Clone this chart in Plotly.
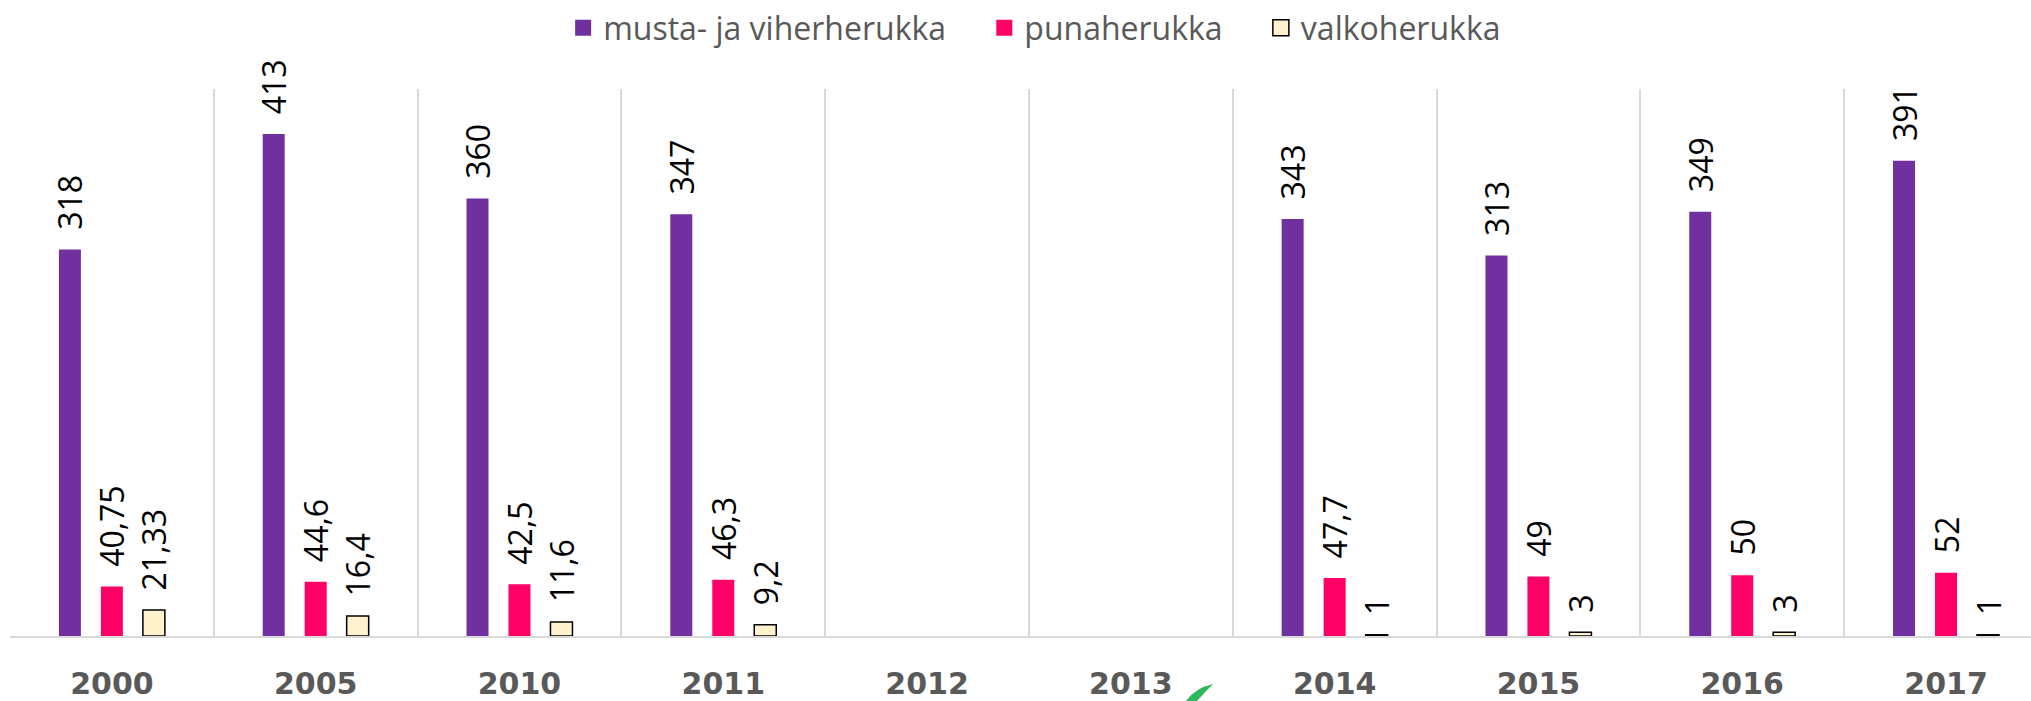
import plotly.graph_objects as go

years = ['2000', '2005', '2010', '2011', '2012', '2013', '2014', '2015', '2016', '2017']
musta = [318, 413, 360, 347, None, None, 343, 313, 349, 391]
puna = [40.75, 44.6, 42.5, 46.3, None, None, 47.7, 49, 50, 52]
valko = [21.33, 16.4, 11.6, 9.2, None, None, 1, 3, 3, 1]

names = ['musta- ja viherherukka', 'punaherukka', 'valkoherukka']
colors = ['#7030A0', '#FF0066', '#FFF2CC']
line_cols = [None, None, '#000000']


def lab(vals):
    out = []
    for v in vals:
        if v is None:
            out.append('')
        else:
            out.append('\u00a0\u00a0' + f'{v:g}'.replace('.', ','))
    return out


fig = go.Figure()
for name, vals, col, lc in zip(names, [musta, puna, valko], colors, line_cols):
    ln = dict(color=lc, width=1.5) if lc else dict(width=0)
    fig.add_trace(go.Bar(
        x=years, y=vals, name=name, showlegend=False,
        marker=dict(color=col, line=ln),
        text=lab(vals), textposition='outside', textangle=-90,
        constraintext='none', cliponaxis=False,
        textfont=dict(family='Open Sans', size=32, color='#000000'),
    ))
# legend entries
for i, (name, col, lc) in enumerate(zip(names, colors, line_cols)):
    pad = '\u00a0' * 4 if i < len(names) - 1 else ''
    fig.add_trace(go.Scatter(
        x=[None], y=[None], mode='markers', name=name + pad,
        marker=dict(symbol='square', size=16, color=col,
                    line=dict(color=lc if lc else col, width=1.5 if lc else 0)),
        hoverinfo='skip',
    ))

# small green decorative stroke below the axis (pixel -> paper conversion)
L, R, T, B = 10, 2031, 89, 636
def px(x):
    return (x - L) / (R - L)
def py(y):
    return (B - y) / (B - T)
leaf = (f"M {px(1186)},{py(701)} Q {px(1195)},{py(688)} {px(1213)},{py(684)} "
        f"Q {px(1205)},{py(692)} {px(1197)},{py(701)} Z")

fig.update_layout(
    width=2031, height=701,
    margin=dict(l=L, r=0, t=T, b=701 - B),
    paper_bgcolor='white', plot_bgcolor='white',
    barmode='group', bargap=0.382, bargroupgap=0.476,
    showlegend=True,
    legend=dict(orientation='h', x=0.507, xanchor='center', yref='container', y=0.96, yanchor='middle',
                font=dict(family='Open Sans', size=32, color='#595959'),
                traceorder='normal', bgcolor='rgba(0,0,0,0)', itemclick=False),
    xaxis=dict(type='category', range=[-0.5, 9.417], tickson='boundaries', showgrid=True,
               gridcolor='#D9D9D9', gridwidth=1.5, showline=True, linecolor='#D9D9D9', linewidth=2,
               ticks='', ticklabelstandoff=20, automargin=False,
               tickfont=dict(family='DejaVu Sans', size=30, color='#595959', weight='bold'),
               zeroline=False),
    yaxis=dict(range=[0, 450], showgrid=False, showticklabels=False, zeroline=False, showline=False,
               ticks='', automargin=False),
    shapes=[dict(type='path', xref='paper', yref='paper', path=leaf,
                 fillcolor='#2EB85C', line=dict(width=0), layer='above')],
)

fig.write_html('out.html')
